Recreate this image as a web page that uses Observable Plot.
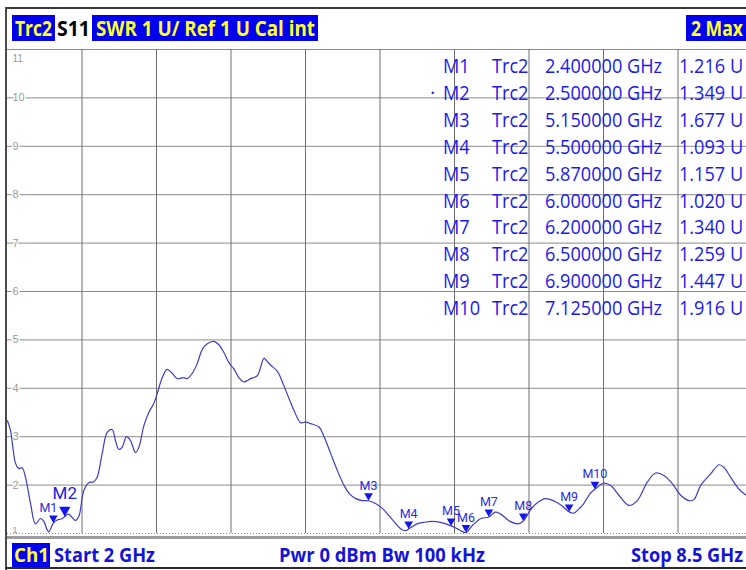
<!DOCTYPE html>
<html><head><meta charset="utf-8">
<script src="https://cdn.jsdelivr.net/npm/d3@7"></script>
<script src="https://cdn.jsdelivr.net/npm/@observablehq/plot@0.6"></script>
<style>
html,body{margin:0;padding:0;background:#fff;}
#root{position:relative;width:746px;height:570px;overflow:hidden;font-family:"Open Sans",sans-serif;}
.abs{position:absolute;white-space:nowrap;transform-origin:0 0;}
#plotwrap{position:absolute;left:0;top:44px;width:746px;height:493px;}
#plotwrap svg{display:block;overflow:hidden;}
</style></head><body><div id="root"></div>
<script>
// ---- data ----
const freqGHz = [2.000,2.026,2.050,2.070,2.099,2.128,2.157,2.201,2.244,2.288,2.317,2.345,2.360,2.380,2.400,2.434,2.470,2.500,2.530,2.565,2.593,2.622,2.666,2.709,2.753,2.782,2.826,2.870,2.913,2.942,2.971,3.000,3.038,3.073,3.117,3.146,3.190,3.233,3.277,3.306,3.350,3.393,3.437,3.481,3.539,3.568,3.612,3.655,3.699,3.743,3.801,3.844,3.888,3.932,3.975,4.019,4.063,4.092,4.121,4.179,4.238,4.267,4.300,4.355,4.412,4.456,4.500,4.558,4.602,4.645,4.718,4.762,4.820,4.878,4.937,4.980,5.039,5.097,5.150,5.211,5.270,5.328,5.386,5.430,5.474,5.500,5.573,5.631,5.704,5.777,5.870,5.922,5.961,6.000,6.058,6.131,6.200,6.254,6.297,6.384,6.457,6.500,6.573,6.631,6.689,6.762,6.834,6.900,6.940,6.990,7.023,7.081,7.125,7.204,7.262,7.335,7.422,7.495,7.582,7.655,7.727,7.800,7.873,7.945,7.989,8.047,8.134,8.207,8.250,8.309,8.381,8.448];
const swrU = [3.33,3.13,2.72,2.45,2.34,2.36,2.16,1.62,1.20,1.31,1.25,1.08,1.03,1.12,1.216,1.28,1.30,1.349,1.40,1.33,1.27,1.35,1.89,2.05,2.07,2.16,2.65,3.09,3.15,2.92,2.74,2.78,3.00,2.92,2.67,2.78,3.23,3.50,3.69,3.89,4.22,4.39,4.31,4.20,4.22,4.20,4.31,4.51,4.80,4.92,4.97,4.90,4.74,4.53,4.40,4.22,4.13,4.16,4.20,4.26,4.62,4.55,4.47,4.35,4.05,3.79,3.54,3.29,3.30,3.27,3.20,3.00,2.65,2.30,1.99,1.83,1.72,1.68,1.677,1.62,1.52,1.37,1.21,1.10,1.06,1.093,1.20,1.23,1.25,1.23,1.157,1.10,1.05,1.020,1.17,1.31,1.340,1.44,1.41,1.25,1.20,1.259,1.52,1.65,1.72,1.68,1.58,1.447,1.42,1.52,1.60,1.82,1.916,2.04,1.99,1.79,1.58,1.68,2.06,2.25,2.20,2.03,1.79,1.68,1.70,1.99,2.23,2.42,2.37,2.16,1.92,1.79];

const markerNames = ["M1","M2","M3","M4","M5","M6","M7","M8","M9","M10"];
const markerFreq  = [2.4,2.5,5.15,5.5,5.87,6.0,6.2,6.5,6.9,7.125];
const markerSwr   = [1.216,1.349,1.677,1.093,1.157,1.020,1.340,1.259,1.447,1.916];
const markerTrace = ["Trc2","Trc2","Trc2","Trc2","Trc2","Trc2","Trc2","Trc2","Trc2","Trc2"];
const markerFreqLabels = ["2.400000 GHz","2.500000 GHz","5.150000 GHz","5.500000 GHz","5.870000 GHz","6.000000 GHz","6.200000 GHz","6.500000 GHz","6.900000 GHz","7.125000 GHz"];
const markerValLabels = ["1.216 U","1.349 U","1.677 U","1.093 U","1.157 U","1.020 U","1.340 U","1.259 U","1.447 U","1.916 U"];
const activeMarker = "M2";

const yTicks = [1,2,3,4,5,6,7,8,9,10,11];
const xGrid = [2.65,3.3,3.95,4.6,5.25,5.9,6.55,7.2,7.85];
const startGHz = 2, stopGHz = 8.5;

const headerTrace = "Trc2", headerParam = "S11", headerFmt = "SWR 1 U/ Ref 1 U Cal int", headerMax = "2 Max";
const footerCh = "Ch1", footerStart = "Start 2 GHz", footerMid = "Pwr 0 dBm Bw 100 kHz", footerStop = "Stop 8.5 GHz";

// ---- build ----
const root = document.getElementById("root");
function box(left, top, w, h, bg){
  const d = document.createElement("div");
  d.className = "abs";
  Object.assign(d.style,{left:left+"px",top:top+"px",width:w+"px",height:h+"px",background:bg});
  root.appendChild(d); return d;
}
function txt(s, left, top, targetW, style){
  const e = document.createElement("span");
  e.className = "abs"; e.textContent = s;
  Object.assign(e.style, style, {left:left+"px", top:top+"px"});
  root.appendChild(e);
  if (targetW){ const w = e.getBoundingClientRect().width; e.style.transform = `scaleX(${targetW/w})`; }
  return e;
}

// plot
const trace = freqGHz.map((f,i)=>({f, v: swrU[i]}));
const markers = markerNames.map((n,i)=>({n, f: markerFreq[i], v: markerSwr[i]}));
const yLab = yTicks.map(v=>({v, t: String(v)}));

const plot = Plot.plot({
  width: 746, height: 493,
  marginLeft: 7, marginRight: 0, marginTop: 5, marginBottom: 4,
  x: {domain: [startGHz, stopGHz], range: [7, 752], axis: null},
  y: {domain: [1, 11], axis: null},
  style: {background: "transparent", overflow: "hidden"},
  marks: [
    Plot.ruleY(yTicks.filter(v=>v>1), {stroke: "#8c8c8c", strokeWidth: 1, strokeOpacity: 1}),
    Plot.ruleY([1], {stroke: "#8c8c8c", strokeDasharray: "1,2"}),
    Plot.ruleX(xGrid, {y1: 1, y2: 11, stroke: "#6e6e6e", strokeWidth: 1, strokeOpacity: 1}),
    Plot.text(yLab.filter(d=>d.v>1 && d.v<11), {x: startGHz, y: "v", text: "t", textAnchor: "start", dx: 5, fill: "#9a9a9a", stroke: "white", strokeWidth: 3, fontSize: 11, fontFamily: "Liberation Sans"}),
    Plot.text(yLab.filter(d=>d.v==11), {x: startGHz, y: "v", text: "t", textAnchor: "start", dx: 5, dy: 9, fill: "#9a9a9a", fontSize: 10, fontFamily: "Liberation Sans"}),
    Plot.text(yLab.filter(d=>d.v==1), {x: startGHz, y: "v", text: "t", textAnchor: "start", dx: 5, dy: -3, fill: "#9a9a9a", fontSize: 9, fontFamily: "Liberation Sans"}),
    Plot.line(trace, {x: "f", y: "v", stroke: "#3e3ec4", strokeWidth: 1.2, curve: "catmull-rom"}),
    Plot.dot(markers.filter(d=>d.n!==activeMarker), {x: "f", y: "v", symbol: "triangle", rotate: 180, r: 3.2, dy: -5, fill: "#1414f0", stroke: "none"}),
    Plot.dot(markers.filter(d=>d.n===activeMarker), {x: "f", y: "v", symbol: "triangle", rotate: 180, r: 4.2, dy: -6.5, fill: "#1414f0", stroke: "none"}),
    Plot.text(markers.filter(d=>d.n!==activeMarker && d.n!=="M1"), {x: "f", y: "v", text: "n", dy: -15, fill: "#2b2be0", fontSize: 12.5, fontFamily: "Roboto"}),
    Plot.text(markers.filter(d=>d.n==="M1"), {x: "f", y: "v", text: "n", dy: -15, dx: -5, fill: "#2b2be0", fontSize: 12.5, fontFamily: "Roboto"}),
    Plot.text(markers.filter(d=>d.n===activeMarker), {x: "f", y: "v", text: "n", dy: -23, fill: "#2020e8", fontSize: 17, fontFamily: "Roboto"})
  ]
});
const wrap = document.createElement("div"); wrap.id = "plotwrap"; wrap.appendChild(plot); root.appendChild(wrap);

// frame lines
box(5, 7, 741, 2, "#3a3a3a");
box(5, 7, 2, 563, "#4a4a4a");
box(7, 536, 739, 3, "#9c9c9c");
box(5, 567, 741, 2, "#2a2a2a");

// header
const hStyle = {fontWeight: "bold", fontSize: "21px", lineHeight: "26px", color: "#ffff2e"};
box(12, 15, 306, 26, "#0000ee");
box(55, 15, 37, 26, "#ffffff");
txt(headerTrace, 15, 15, 37, hStyle);
txt(headerParam, 57, 15, 33, Object.assign({}, hStyle, {color: "#000"}));
txt(headerFmt, 96, 15, 219, hStyle);
box(686, 15, 60, 26, "#0000ee");
txt(headerMax, 691, 15, 52, hStyle);

// footer
const fStyle = {fontWeight: "bold", fontSize: "20px", lineHeight: "24px", color: "#1414d8"};
box(12, 543, 38, 24, "#0000ee");
txt(footerCh, 14, 543, 35, Object.assign({}, fStyle, {color: "#ffff2e"}));
txt(footerStart, 54, 543, 101, fStyle);
txt(footerMid, 279, 543, 206, fStyle);
txt(footerStop, 631, 543, 112, fStyle);

// marker table
const tStyle = {fontSize: "20px", lineHeight: "20px", color: "#1a1aee"};
const probe = txt(markerFreqLabels[0], 0, -100, 0, tStyle);
const tScale = 117 / probe.getBoundingClientRect().width; probe.remove();
markerNames.forEach((n,i)=>{
  const top = 56 + i*26.9;
  [[n,443],[markerTrace[i],492],[markerFreqLabels[i],545],[markerValLabels[i],679]].forEach(([s,l])=>{
    const e = txt(s, l, top, 0, tStyle); e.style.transform = `scaleX(${tScale})`;
  });
  if (n === activeMarker) txt("·", 430, top, 0, tStyle);
});
</script></body></html>
